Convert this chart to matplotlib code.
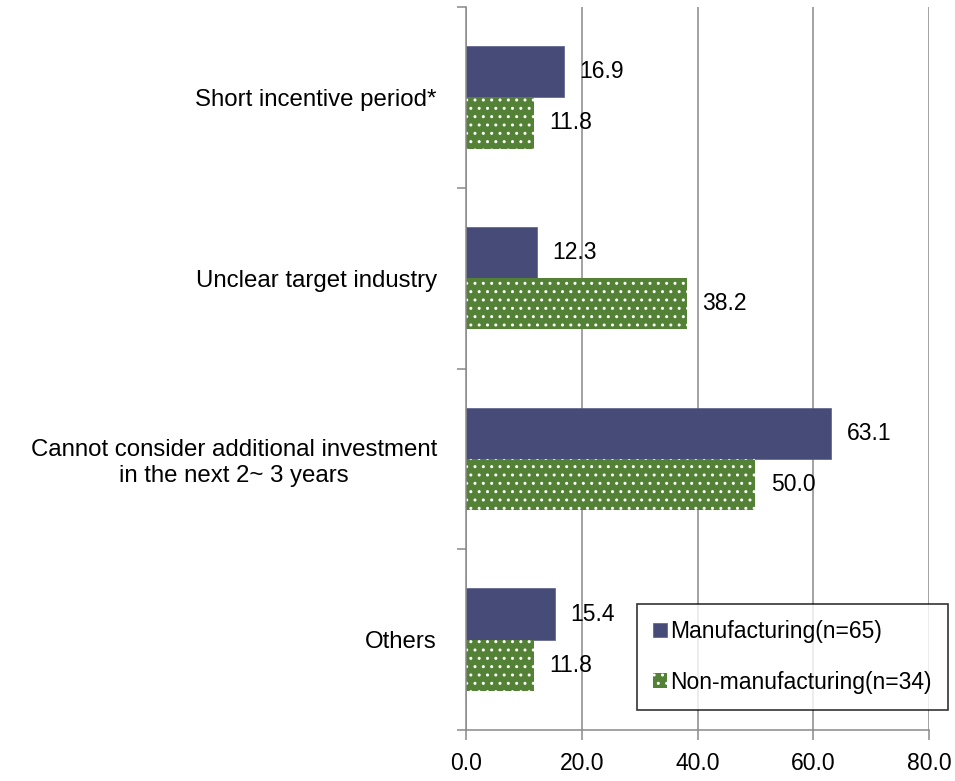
import matplotlib
matplotlib.use("Agg")
import matplotlib.pyplot as plt
from matplotlib import font_manager
from matplotlib.ticker import FixedLocator
import numpy as np

categories = ["Short incentive period*", "Unclear target industry",
              "Cannot consider additional investment\nin the next 2~ 3 years", "Others"]
manufacturing = [16.9, 12.3, 63.1, 15.4]
non_manufacturing = [11.8, 38.2, 50.0, 11.8]
series_names = ["Manufacturing(n=65)", "Non-manufacturing(n=34)"]
x_ticks = [0, 20, 40, 60, 80]
x_tick_labels = ["0.0", "20.0", "40.0", "60.0", "80.0"]

names = {f.name for f in font_manager.fontManager.ttflist}
if "Liberation Sans Narrow" in names:
    FAM, FS, FSC = "Liberation Sans Narrow", 20, 21
else:
    FAM, FS, FSC = "Liberation Sans", 16.5, 17.3
plt.rcParams["font.family"] = [FAM, "DejaVu Sans"]
plt.rcParams["hatch.linewidth"] = 1.0

C_MAN = "#474B78"
C_NON = "#538135"
GRID = "#898989"

fig = plt.figure(figsize=(9.55, 7.81), dpi=100)
ax = fig.add_axes([466/955, 1-730/781, (929-466)/955, (730-7)/781])

y = np.arange(len(categories))
h = 0.283
ax.barh(y - h/2, manufacturing, height=h, color=C_MAN, edgecolor="#5A5E88",
        linewidth=0.5, label=series_names[0], zorder=2)
ax.barh(y + h/2, non_manufacturing, height=h, color=C_NON, edgecolor="white",
        linewidth=0, hatch="..", label=series_names[1], zorder=2)

for yi, v in zip(y - h/2, manufacturing):
    ax.annotate(f"{v:.1f}", (v, yi), xytext=(11, 0), textcoords="offset points",
                ha="left", va="center", fontsize=FS, color="black", zorder=3)
for yi, v in zip(y + h/2, non_manufacturing):
    ax.annotate(f"{v:.1f}", (v, yi), xytext=(11, 0), textcoords="offset points",
                ha="left", va="center", fontsize=FS, color="black", zorder=3)

ax.set_xlim(0, 80)
ax.set_ylim(len(categories) - 0.5, -0.5)
ax.set_xticks(x_ticks)
ax.set_xticklabels(x_tick_labels, fontsize=FS)
ax.set_yticks(y)
ax.set_yticklabels(categories, fontsize=FSC, multialignment="center")
ax.yaxis.set_minor_locator(FixedLocator(np.arange(-0.5, len(categories), 1.0)))
ax.tick_params(axis="y", which="major", length=0, pad=21)
ax.tick_params(axis="y", which="minor", length=6.5, width=1.1, color=GRID)
ax.tick_params(axis="x", which="major", length=7, width=1.1, color=GRID, pad=9)

ax.grid(axis="x", color=GRID, linewidth=1.1)
ax.set_axisbelow(True)
for s in ["top", "right"]:
    ax.spines[s].set_visible(False)
for s in ["left", "bottom"]:
    ax.spines[s].set_color(GRID)
    ax.spines[s].set_linewidth(1.1)

leg = ax.legend(loc="upper right", bbox_to_anchor=(948/955, 1-604/781),
                bbox_transform=fig.transFigure, borderaxespad=0, fontsize=FS,
                frameon=True, fancybox=False, edgecolor="black",
                handlelength=0.6, handleheight=0.6, handletextpad=0.15,
                labelspacing=1.2, borderpad=0.7)
leg.get_frame().set_linewidth(1.2)

fig.savefig("out.png", dpi=100)
